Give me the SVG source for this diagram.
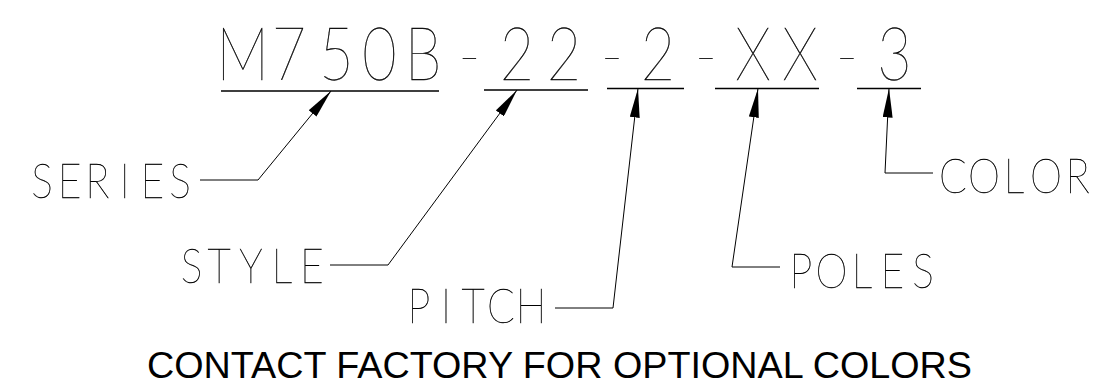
<svg xmlns="http://www.w3.org/2000/svg" width="1120" height="392" viewBox="0 0 1120 392">
<style>
.cad{font-family:Lato,"DejaVu Sans",sans-serif;font-weight:100;fill:#000;stroke:#000;stroke-width:0.4;text-anchor:middle;filter:url(#gray)}
.big{font-size:74px}
.lbl{font-size:48px}
.ul{stroke:#000;stroke-width:1.3;fill:none}
.ld{stroke:#000;stroke-width:1;fill:none;marker-end:url(#ah)}
.note{font-family:"Liberation Sans",Arial,sans-serif;font-size:36px;fill:#000}
</style>
<defs>
<filter id="gray" x="-5%" y="-20%" width="110%" height="140%">
<feOffset dx="0" dy="0"/>
</filter>
<marker id="ah" viewBox="0 0 29 10" refX="29" refY="5" markerWidth="29" markerHeight="10" markerUnits="userSpaceOnUse" orient="auto">
<path d="M0,0 L29,5 L0,10 Z" fill="#000"/>
</marker>
</defs>
<rect width="1120" height="392" fill="#fff"/>
<g id="part-number">
<text class="cad big" transform="scale(0.8,1)" y="80" x="303.13 361.25 420.63 474.38 528.75 586.88 646.25 705 765 822.5 882.5 941.25 1000 1058.75 1118.13">M750B-22-2-XX-3</text>
<path class="ul" d="M221,91 H439 M484,90 H588 M607,88.5 H684 M715,88.5 H819 M857,88.5 H921"/>
</g>
<g id="series">
<text class="cad lbl" transform="scale(0.85,1)" y="198" x="49.41 81.88 114.35 146.82 179.29 211.76">SERIES</text>
</g>
<g id="style">
<text class="cad lbl" transform="scale(0.85,1)" y="283" x="225.29 257.65 295.29 331.76 367.06">STYLE</text>
</g>
<g id="pitch">
<text class="cad lbl" transform="scale(0.85,1)" y="323" x="492.94 524.71 556.47 589.41 624.71">PITCH</text>
</g>
<g id="poles">
<text class="cad lbl" transform="scale(0.85,1)" y="288" x="942.35 978.24 1014.12 1050 1085.88">POLES</text>
</g>
<g id="color">
<text class="cad lbl" transform="scale(0.85,1)" y="193" x="1121.18 1157.65 1192.94 1230.59 1267.65">COLOR</text>
</g>
<g id="connectors">
<polyline class="ld" points="200,180 258,180 331,91"/>
<polyline class="ld" points="330,265 388,265 517,90"/>
<polyline class="ld" points="555,308 613,308 638,88.5"/>
<polyline class="ld" points="780,267 732,267 758,88.5"/>
<polyline class="ld" points="933,173 885,173 889,88.5"/>
</g>
<g id="note">
<text class="note" x="147" y="378" textLength="825" lengthAdjust="spacingAndGlyphs">CONTACT FACTORY FOR OPTIONAL COLORS</text>
</g>
</svg>
